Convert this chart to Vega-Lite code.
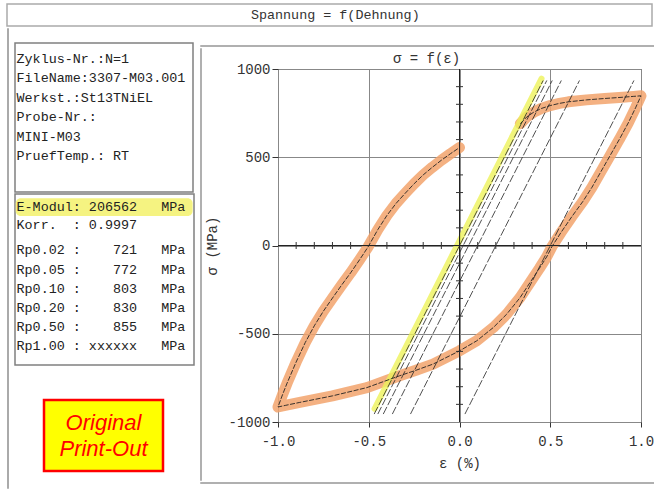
{
  "$schema": "https://vega.github.io/schema/vega-lite/v6.json",
  "padding": {"left": 6, "top": 3, "right": 0, "bottom": 0},
  "background": "white",
  "config": {"view": {"stroke": null}, "concat": {"spacing": 0}},
  "datasets": {
    "loop": [
      {"i":0,"e":0.335,"s":690},{"i":1,"e":0.37,"s":728},{"i":2,"e":0.407,"s":754},{"i":3,"e":0.45,"s":776},
      {"i":4,"e":0.5,"s":793},{"i":5,"e":0.55,"s":805},{"i":6,"e":0.6,"s":814},{"i":7,"e":0.7,"s":825},
      {"i":8,"e":0.8,"s":833},{"i":9,"e":0.9,"s":840},{"i":10,"e":0.96,"s":845},{"i":11,"e":1.0,"s":848},
      {"i":12,"e":0.97,"s":780},{"i":13,"e":0.93,"s":695},{"i":14,"e":0.88,"s":600},{"i":15,"e":0.83,"s":510},
      {"i":16,"e":0.78,"s":420},{"i":17,"e":0.73,"s":330},{"i":18,"e":0.68,"s":250},{"i":19,"e":0.62,"s":165},
      {"i":20,"e":0.56,"s":75},{"i":21,"e":0.51,"s":-5},{"i":22,"e":0.48,"s":-65},{"i":23,"e":0.44,"s":-130},
      {"i":24,"e":0.407,"s":-181},{"i":25,"e":0.334,"s":-295},{"i":26,"e":0.26,"s":-389},{"i":27,"e":0.186,"s":-465},
      {"i":28,"e":0.095,"s":-540},{"i":29,"e":0.0,"s":-597},{"i":30,"e":-0.146,"s":-672},{"i":31,"e":-0.24,"s":-707},
      {"i":32,"e":-0.33,"s":-738},{"i":33,"e":-0.51,"s":-805},{"i":34,"e":-0.7,"s":-852},{"i":35,"e":-0.88,"s":-889},
      {"i":36,"e":-0.96,"s":-906},{"i":37,"e":-1.0,"s":-915},{"i":38,"e":-0.975,"s":-845},{"i":39,"e":-0.95,"s":-780},
      {"i":40,"e":-0.9,"s":-660},{"i":41,"e":-0.85,"s":-550},{"i":42,"e":-0.8,"s":-455},{"i":43,"e":-0.75,"s":-372},
      {"i":44,"e":-0.7,"s":-298},{"i":45,"e":-0.65,"s":-225},{"i":46,"e":-0.6,"s":-155},{"i":47,"e":-0.55,"s":-80},
      {"i":48,"e":-0.505,"s":-10},{"i":49,"e":-0.45,"s":90},{"i":50,"e":-0.4,"s":170},{"i":51,"e":-0.35,"s":238},
      {"i":52,"e":-0.3,"s":295},{"i":53,"e":-0.25,"s":350},{"i":54,"e":-0.2,"s":400},{"i":55,"e":-0.15,"s":443},
      {"i":56,"e":-0.1,"s":483},{"i":57,"e":-0.05,"s":520},{"i":58,"e":0.0,"s":555}
    ],
    "lines": [
      {"line":"E","e":-0.47,"s":-955},{"line":"E","e":0.461,"s":935},
      {"line":"Rp0.02","e":-0.45,"s":-955},{"line":"Rp0.02","e":0.481,"s":935},
      {"line":"Rp0.05","e":-0.42,"s":-955},{"line":"Rp0.05","e":0.511,"s":935},
      {"line":"Rp0.10","e":-0.37,"s":-955},{"line":"Rp0.10","e":0.561,"s":935},
      {"line":"Rp0.20","e":-0.27,"s":-955},{"line":"Rp0.20","e":0.661,"s":935},
      {"line":"Rp0.50","e":0.03,"s":-955},{"line":"Rp0.50","e":0.961,"s":935}
    ],
    "yellow": [{"e":-0.468,"s":-925},{"e":0.452,"s":945}],
    "xticks": [
      {"e":-0.9,"s":0},{"e":-0.8,"s":0},{"e":-0.7,"s":0},{"e":-0.6,"s":0},{"e":-0.4,"s":0},{"e":-0.3,"s":0},
      {"e":-0.2,"s":0},{"e":-0.1,"s":0},{"e":0.1,"s":0},{"e":0.2,"s":0},{"e":0.3,"s":0},{"e":0.4,"s":0},
      {"e":0.6,"s":0},{"e":0.7,"s":0},{"e":0.8,"s":0},{"e":0.9,"s":0}
    ],
    "yticks": [
      {"e":0,"s":-900},{"e":0,"s":-800},{"e":0,"s":-700},{"e":0,"s":-600},{"e":0,"s":-400},{"e":0,"s":-300},
      {"e":0,"s":-200},{"e":0,"s":-100},{"e":0,"s":100},{"e":0,"s":200},{"e":0,"s":300},{"e":0,"s":400},
      {"e":0,"s":600},{"e":0,"s":700},{"e":0,"s":800},{"e":0,"s":900}
    ]
  },
  "spacing": 0,
  "vconcat": [
    {
      "width": 645, "height": 22,
      "view": {"stroke": "#aaaaaa", "strokeWidth": 1.5},
      "data": {"values": [{"col": 0, "row": 0, "t": "Spannung = f(Dehnung)"}]},
      "mark": {"type": "text", "align": "center", "baseline": "middle", "font": "Liberation Mono", "fontSize": 13.4, "color": "#333333"},
      "encoding": {
        "x": {"field": "col", "type": "quantitative", "scale": {"domain": [-1.018, 0.982], "nice": false, "zero": false}, "axis": null},
        "y": {"field": "row", "type": "quantitative", "scale": {"domain": [-1, 1], "nice": false, "zero": false}, "axis": null},
        "text": {"field": "t"}
      }
    },
    {
      "spacing": 0,
      "hconcat": [
        {"width": 1, "height": 460, "view": {"stroke": "#aaaaaa", "strokeWidth": 1}, "data": {"values": []}, "mark": {"type": "point", "opacity": 0}, "encoding": {}},
        {"width": 4.25, "height": 1, "data": {"values": []}, "mark": {"type": "point", "opacity": 0}, "encoding": {}},
        {
          "spacing": 0,
          "vconcat": [
            {"width": 1, "height": 13.75, "data": {"values": []}, "mark": {"type": "point", "opacity": 0}, "encoding": {}},
            {
              "width": 178, "height": 149,
              "view": {"stroke": "#808080", "strokeWidth": 1.5},
              "data": {"values": [
                {"row": 0, "col": 0, "t": "Zyklus-Nr.:N=1"},
                {"row": 1, "col": 0, "t": "FileName:3307-M03.001"},
                {"row": 2, "col": 0, "t": "Werkst.:St13TNiEL"},
                {"row": 3, "col": 0, "t": "Probe-Nr.:"},
                {"row": 4, "col": 0, "t": "MINI-M03"},
                {"row": 5, "col": 0, "t": "PruefTemp.: RT"}
              ]},
              "mark": {"type": "text", "align": "left", "baseline": "middle", "font": "Liberation Mono", "fontSize": 13.4, "color": "#222222"},
              "encoding": {
                "x": {"field": "col", "type": "quantitative", "scale": {"domain": [-0.19, 21.95], "nice": false, "zero": false}, "axis": null},
                "y": {"field": "row", "type": "quantitative", "scale": {"domain": [-0.8, 6.84], "nice": false, "zero": false, "reverse": true}, "axis": null},
                "text": {"field": "t"}
              }
            },
            {
              "width": 179, "height": 171,
              "view": {"stroke": "#808080", "strokeWidth": 1.5},
              "encoding": {
                "x": {"field": "col", "type": "quantitative", "scale": {"domain": [-0.19, 22.07], "nice": false, "zero": false}, "axis": null},
                "y": {"field": "row", "type": "quantitative", "scale": {"domain": [0, 9], "nice": false, "zero": false, "reverse": true}, "axis": null}
              },
              "layer": [
                {
                  "data": {"values": [{"col": -0.1, "col2": 21.9, "row": 0.22, "row2": 1.16}]},
                  "mark": {"type": "rect", "color": "#f4f27a", "opacity": 0.95, "cornerRadius": 5},
                  "encoding": {"x2": {"field": "col2"}, "y2": {"field": "row2"}}
                },
                {
                  "data": {"values": [
                    {"row": 0.68, "col": 0, "t": "E-Modul: 206562\u00a0\u00a0\u00a0MPa"},
                    {"row": 1.63, "col": 0, "t": "Korr.\u00a0\u00a0: 0.9997"},
                    {"row": 2.95, "col": 0, "t": "Rp0.02 :\u00a0\u00a0\u00a0\u00a0721\u00a0\u00a0\u00a0MPa"},
                    {"row": 4.0, "col": 0, "t": "Rp0.05 :\u00a0\u00a0\u00a0\u00a0772\u00a0\u00a0\u00a0MPa"},
                    {"row": 5.0, "col": 0, "t": "Rp0.10 :\u00a0\u00a0\u00a0\u00a0803\u00a0\u00a0\u00a0MPa"},
                    {"row": 6.0, "col": 0, "t": "Rp0.20 :\u00a0\u00a0\u00a0\u00a0830\u00a0\u00a0\u00a0MPa"},
                    {"row": 7.0, "col": 0, "t": "Rp0.50 :\u00a0\u00a0\u00a0\u00a0855\u00a0\u00a0\u00a0MPa"},
                    {"row": 8.0, "col": 0, "t": "Rp1.00 : xxxxxx\u00a0\u00a0\u00a0MPa"}
                  ]},
                  "mark": {"type": "text", "align": "left", "baseline": "middle", "font": "Liberation Mono", "fontSize": 13.4, "color": "#222222"},
                  "encoding": {"text": {"field": "t"}}
                }
              ]
            },
            {"width": 1, "height": 32, "data": {"values": []}, "mark": {"type": "point", "opacity": 0}, "encoding": {}},
            {
              "spacing": 0,
              "hconcat": [
                {"width": 27, "height": 1, "data": {"values": []}, "mark": {"type": "point", "opacity": 0}, "encoding": {}},
                {
                  "width": 119, "height": 71,
                  "view": {"fill": "#ffff00", "stroke": "#ff0000", "strokeWidth": 2.5},
                  "data": {"values": [{"col": 0, "row": 0, "t": "Original"}, {"col": 0, "row": 1, "t": "Print-Out"}]},
                  "mark": {"type": "text", "align": "center", "baseline": "middle", "font": "Liberation Sans", "fontStyle": "italic", "fontSize": 22, "color": "#ff0000"},
                  "encoding": {
                    "x": {"field": "col", "type": "quantitative", "scale": {"domain": [-1, 1], "nice": false, "zero": false}, "axis": null},
                    "y": {"field": "row", "type": "quantitative", "scale": {"domain": [-0.885, 1.846], "nice": false, "zero": false, "reverse": true}, "axis": null},
                    "text": {"field": "t"}
                  }
                }
              ]
            }
          ]
        },
        {"width": 3.75, "height": 1, "data": {"values": []}, "mark": {"type": "point", "opacity": 0}, "encoding": {}},
        {
          "spacing": 0,
          "vconcat": [
            {"width": 1, "height": 16, "data": {"values": []}, "mark": {"type": "point", "opacity": 0}, "encoding": {}},
            {"width": 455, "height": 1, "view": {"stroke": "#b0b0b0", "strokeWidth": 1}, "data": {"values": []}, "mark": {"type": "point", "opacity": 0}, "encoding": {}},
            {
              "spacing": 0,
              "hconcat": [
                {"width": 1, "height": 432, "view": {"stroke": "#b0b0b0", "strokeWidth": 1}, "data": {"values": []}, "mark": {"type": "point", "opacity": 0}, "encoding": {}},
                {"width": 2.5, "height": 1, "data": {"values": []}, "mark": {"type": "point", "opacity": 0}, "encoding": {}},
                {
                  "spacing": 0,
                  "vconcat": [
                    {"width": 1, "height": 2.5, "data": {"values": []}, "mark": {"type": "point", "opacity": 0}, "encoding": {}},
                    {
                      "width": 363, "height": 353,
                      "title": {"text": "σ = f(ε)", "font": "Liberation Mono", "fontSize": 14, "fontWeight": "normal", "color": "#333333", "offset": -4, "dx": -33},
                      "view": {"stroke": "#444444", "strokeWidth": 1},
                      "layer": [
                        {
                          "data": {"name": "loop"},
                          "mark": {"type": "line", "color": "#f2a36c", "strokeWidth": 11, "opacity": 0.85, "strokeCap": "round", "strokeJoin": "round"},
                          "encoding": {
                            "x": {"field": "e", "type": "quantitative",
                              "scale": {"domain": [-1, 1], "nice": false, "zero": false},
                              "axis": {"values": [-1, -0.5, 0, 0.5, 1], "format": ".1f", "labelExpr": "replace(datum.label, '\u2212', '-')",
                                "grid": true, "gridColor": "#888888", "domain": false, "tickColor": "#333333", "tickSize": 5,
                                "labelPadding": 7, "labelFont": "Liberation Mono", "labelFontSize": 14, "labelColor": "#333333",
                                "labelFlush": false, "labelOverlap": false,
                                "title": "ε (%)", "titleFont": "Liberation Mono", "titleFontSize": 14, "titleFontWeight": "normal", "titleColor": "#333333", "titlePadding": 8}},
                            "y": {"field": "s", "type": "quantitative",
                              "scale": {"domain": [-1000, 1000], "nice": false, "zero": false},
                              "axis": {"values": [-1000, -500, 0, 500, 1000], "format": "d", "labelExpr": "replace(datum.label, '\u2212', '-')",
                                "grid": true, "gridColor": "#888888", "domain": false, "tickColor": "#333333", "tickSize": 6,
                                "labelPadding": 2, "labelFont": "Liberation Mono", "labelFontSize": 14, "labelColor": "#333333",
                                "labelFlush": false, "labelOverlap": false,
                                "title": "σ (MPa)", "titleFont": "Liberation Mono", "titleFontSize": 14, "titleFontWeight": "normal", "titleColor": "#333333", "titlePadding": 8}},
                            "order": {"field": "i", "type": "quantitative"}
                          }
                        },
                        {
                          "data": {"name": "yellow"},
                          "mark": {"type": "line", "color": "#eef25a", "strokeWidth": 6, "opacity": 0.8, "strokeCap": "round"},
                          "encoding": {"x": {"field": "e", "type": "quantitative"}, "y": {"field": "s", "type": "quantitative"}}
                        },
                        {
                          "data": {"values": [{"e": 0}]},
                          "mark": {"type": "rule", "color": "#222222", "strokeWidth": 1},
                          "encoding": {"x": {"field": "e", "type": "quantitative"}}
                        },
                        {
                          "data": {"values": [{"s": 0}]},
                          "mark": {"type": "rule", "color": "#222222", "strokeWidth": 1},
                          "encoding": {"y": {"field": "s", "type": "quantitative"}}
                        },
                        {
                          "data": {"name": "xticks"},
                          "mark": {"type": "tick", "orient": "vertical", "color": "#333333", "size": 7, "thickness": 1, "opacity": 1},
                          "encoding": {"x": {"field": "e", "type": "quantitative"}, "y": {"field": "s", "type": "quantitative"}}
                        },
                        {
                          "data": {"name": "yticks"},
                          "mark": {"type": "tick", "orient": "horizontal", "color": "#333333", "size": 7, "thickness": 1, "opacity": 1},
                          "encoding": {"x": {"field": "e", "type": "quantitative"}, "y": {"field": "s", "type": "quantitative"}}
                        },
                        {
                          "data": {"name": "loop"},
                          "mark": {"type": "line", "color": "#222222", "strokeWidth": 0.9, "strokeDash": [5, 1.5]},
                          "encoding": {
                            "x": {"field": "e", "type": "quantitative"},
                            "y": {"field": "s", "type": "quantitative"},
                            "order": {"field": "i", "type": "quantitative"}
                          }
                        },
                        {
                          "data": {"name": "lines"},
                          "mark": {"type": "line", "color": "#222222", "strokeWidth": 0.8, "strokeDash": [8, 2]},
                          "encoding": {
                            "x": {"field": "e", "type": "quantitative"},
                            "y": {"field": "s", "type": "quantitative"},
                            "detail": {"field": "line", "type": "nominal"}
                          }
                        }
                      ]
                    }
                  ]
                }
              ]
            },
            {"width": 455, "height": 1, "view": {"stroke": "#b0b0b0", "strokeWidth": 1}, "data": {"values": []}, "mark": {"type": "point", "opacity": 0}, "encoding": {}}
          ]
        }
      ]
    }
  ]
}
